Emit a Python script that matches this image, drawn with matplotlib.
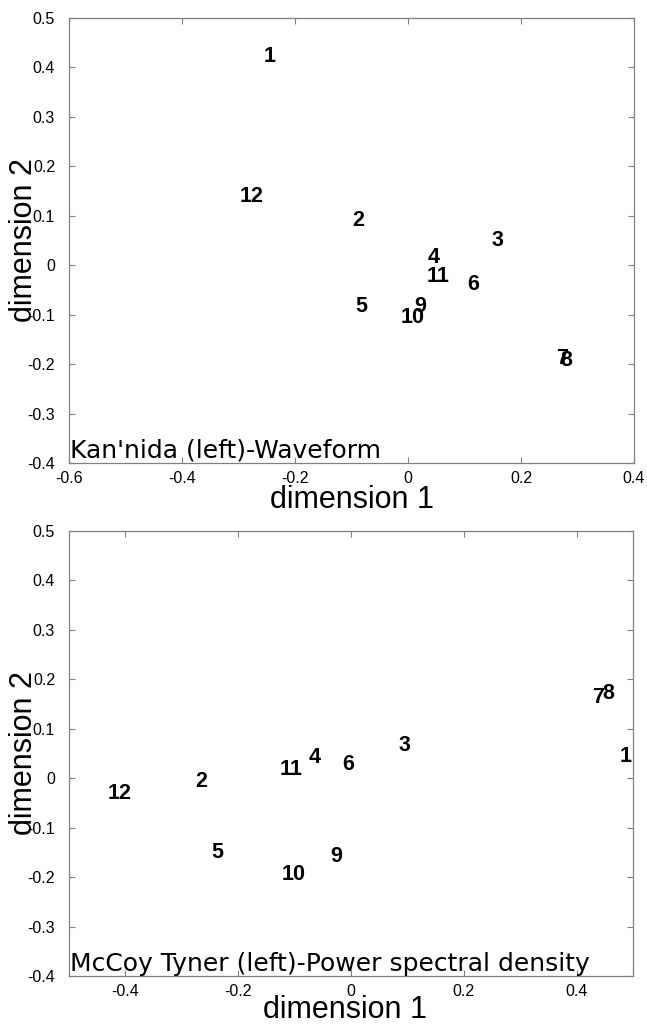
import matplotlib
matplotlib.use("Agg")
import matplotlib.pyplot as plt

plt.rcParams["axes.unicode_minus"] = False

labels = ["1", "2", "3", "4", "5", "6", "7", "8", "9", "10", "11", "12"]

# Kan'nida (left) - Waveform
x_wave = [-0.256, -0.099, 0.148, 0.034, -0.093, 0.105, 0.263, 0.269, 0.011, -0.013, 0.033, -0.298]
y_wave = [0.422, 0.090, 0.050, 0.016, -0.083, -0.040, -0.188, -0.192, -0.083, -0.105, -0.022, 0.140]

# McCoy Tyner (left) - Power spectral density
x_psd = [0.476, -0.277, 0.085, -0.075, -0.247, -0.016, 0.428, 0.445, -0.036, -0.123, -0.126, -0.431]
y_psd = [0.044, -0.007, 0.066, 0.041, -0.150, 0.028, 0.163, 0.172, -0.158, -0.194, 0.018, -0.030]

xticks_wave = [-0.6, -0.4, -0.2, 0, 0.2, 0.4]
xticks_psd = [-0.4, -0.2, 0, 0.2, 0.4]
yticks = [-0.4, -0.3, -0.2, -0.1, 0, 0.1, 0.2, 0.3, 0.4, 0.5]

fig = plt.figure(figsize=(6.47, 10.24), dpi=100)

W, H = 647, 1024
panels = [
    dict(rect=[69 / W, 1 - 463 / H, 565 / W, 445 / H], x=x_wave, y=y_wave,
         xlim=(-0.6, 0.4), xticks=xticks_wave,
         note="Kan'nida (left)-Waveform", xlab_y=-0.10, xlab_x=0.50),
    dict(rect=[69 / W, 1 - 976 / H, 564 / W, 445 / H], x=x_psd, y=y_psd,
         xlim=(-0.5, 0.5), xticks=xticks_psd,
         note="McCoy Tyner (left)-Power spectral density", xlab_y=-0.094, xlab_x=0.49),
]

gray = "#808080"
for p in panels:
    ax = fig.add_axes(p["rect"])
    ax.set_xlim(*p["xlim"])
    ax.set_ylim(-0.4, 0.5)
    ax.set_xticks(p["xticks"])
    ax.set_yticks(yticks)
    ax.set_xticklabels([f"{t:g}" for t in p["xticks"]], fontfamily="Liberation Sans", fontsize=11.5)
    ax.set_yticklabels([f"{t:g}" for t in yticks], fontfamily="Liberation Sans", fontsize=11.5)
    ax.tick_params(direction="in", top=True, right=True, length=4.5, width=0.8,
                   color=gray)
    ax.tick_params(axis="y", pad=10)
    ax.tick_params(axis="x", pad=6)
    for s in ax.spines.values():
        s.set_color(gray)
        s.set_linewidth(0.9)

    for lab, xv, yv in zip(labels, p["x"], p["y"]):
        ax.text(xv, yv, lab, ha="left", va="center", fontsize=15.5,
                fontweight="bold", fontfamily="Liberation Sans")

    ax.text(p["xlim"][0] + 0.002, -0.389, p["note"], ha="left", va="baseline",
            fontsize=18, fontfamily="DejaVu Sans")

    ax.set_xlabel("dimension 1", fontsize=22, fontfamily="Liberation Sans")
    ax.xaxis.label.set_va("baseline")
    ax.xaxis.set_label_coords(p["xlab_x"], p["xlab_y"])
    ax.set_ylabel("dimension 2", fontsize=22, fontfamily="Liberation Sans")
    ax.yaxis.set_label_coords(-0.053, 0.5)

fig.savefig("out.png", dpi=100)
